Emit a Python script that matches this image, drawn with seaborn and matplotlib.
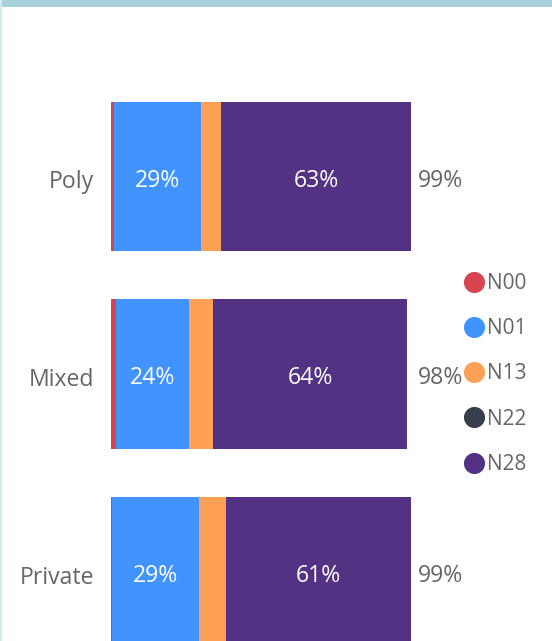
import matplotlib
matplotlib.use("Agg")
import matplotlib.pyplot as plt
from matplotlib.patches import Rectangle
from matplotlib.lines import Line2D
from matplotlib.transforms import ScaledTranslation
import seaborn as sns
import pandas as pd
import numpy as np

categories = ["Poly", "Mixed", "Private"]
series_names = ["N00", "N01", "N13", "N22", "N28"]
N00 = [1.0, 1.7, 0.2]
N01 = [28.7, 24.0, 28.9]
N13 = [6.6, 7.9, 8.9]
N22 = [0.0, 0.4, 0.0]
N28 = [62.7, 63.7, 61.0]
totals_label = ["99%", "98%", "99%"]
colors = ["#D64550", "#4193FF", "#FFA057", "#373F4C", "#533284"]

sns.set_theme(style="white")
plt.rcParams["font.family"] = ["Open Sans", "DejaVu Sans"]

W, H = 552, 641
fig = plt.figure(figsize=(W / 100, H / 100), dpi=100)
fig.patch.set_facecolor("white")

# axes geometry in pixels
x0_px = 111
px_per_unit = 3.03
ax = fig.add_axes([x0_px / W, 0, (W - x0_px) / W, 1])
ax.set_facecolor("white")

series = [N00, N01, N13, N22, N28]
cum = np.cumsum(np.array(series), axis=0)

# draw stacked bars from the total downward so later bars overlay
for i in range(len(series_names) - 1, -1, -1):
    d = pd.DataFrame({"cat": categories, "val": cum[i]})
    sns.barplot(data=d, y="cat", x="val", orient="h", color=colors[i],
                width=0.755, saturation=1, linewidth=0, ax=ax, errorbar=None)

FS = 16.6
label_color = "#666666"
down1 = ax.transData + ScaledTranslation(0, -1.5 / 100, fig.dpi_scale_trans)
for j, cat in enumerate(categories):
    start01 = cum[0][j]
    ax.text(start01 + N01[j] / 2, j, f"{round(N01[j])}%", color="white",
            ha="center", va="center_baseline", fontsize=FS, transform=down1)
    start28 = cum[3][j]
    ax.text(start28 + N28[j] / 2, j, f"{round(N28[j])}%", color="white",
            ha="center", va="center_baseline", fontsize=FS, transform=down1)

tot_x = max(cum[-1]) + 2.4
for j, t in enumerate(totals_label):
    ax.text(tot_x, j, t, color=label_color, ha="left", va="center_baseline",
            fontsize=FS, transform=down1)

# scales
ax.set_xlim(0, (W - x0_px) / px_per_unit)
band = 197.5
c0 = 176.5
ax.set_ylim((H - c0) / band, -c0 / band)
ax.set_xlabel("")
ax.set_ylabel("")
ax.set_xticks([])
ax.tick_params(axis="y", length=0, pad=12, labelsize=FS, labelcolor=label_color)
for lab in ax.get_yticklabels():
    lab.set_transform(lab.get_transform() +
                      ScaledTranslation(0, -3 / 100, fig.dpi_scale_trans))
for s in ax.spines.values():
    s.set_visible(False)

# legend
handles = [Line2D([0], [0], marker="o", linestyle="", markersize=15.2,
                  markerfacecolor=c, markeredgewidth=0) for c in colors]
leg = fig.legend(handles, series_names, loc="center left",
                 bbox_to_anchor=(463.5 / W, 1 - 374 / H), frameon=False,
                 handlelength=1.0, handletextpad=0.12, labelspacing=1.16,
                 fontsize=15, borderpad=0, borderaxespad=0)
for t in leg.get_texts():
    t.set_color(label_color)

# frame decorations
fig.patches.append(Rectangle((0, 1 - 7 / H), 1, 7 / H, transform=fig.transFigure,
                             facecolor="#A6D1D9", edgecolor="none", zorder=10))
fig.patches.append(Rectangle((0, 0), 2 / W, 1, transform=fig.transFigure,
                             facecolor="#D3E9EE", edgecolor="none", zorder=10))

fig.savefig("out.png", dpi=100)
